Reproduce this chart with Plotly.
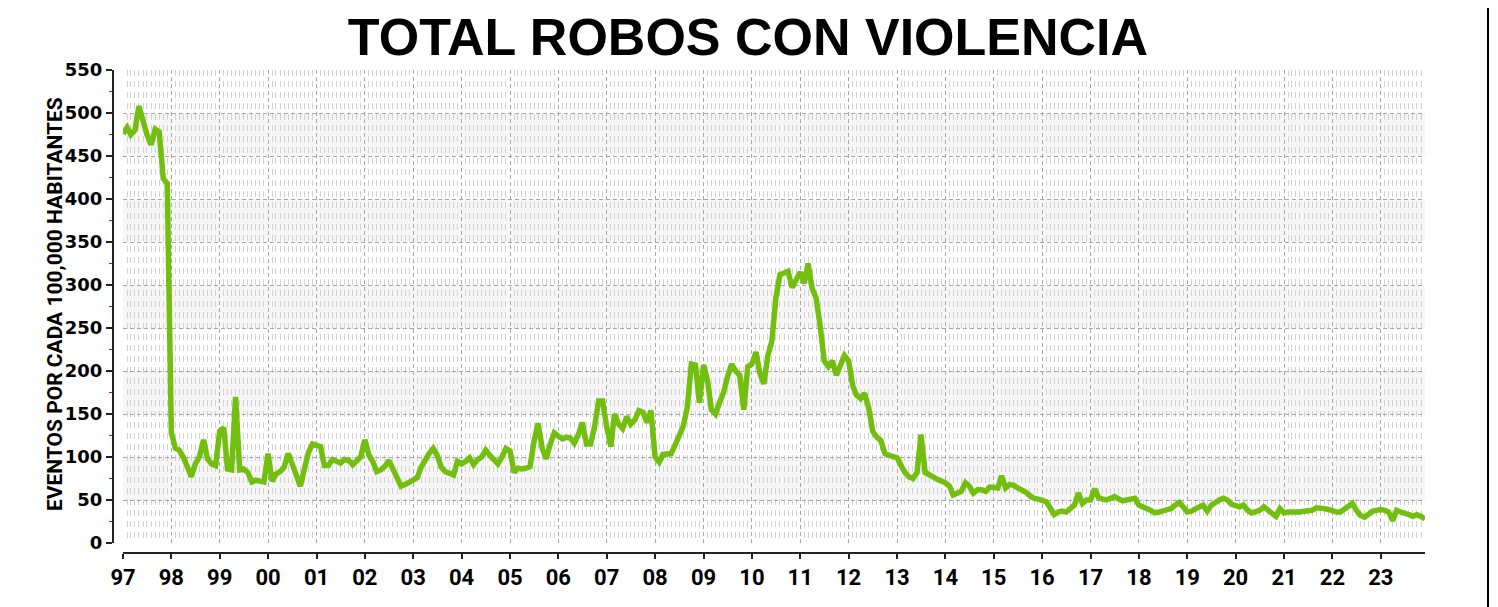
import plotly.graph_objects as go
import pandas as pd

title_text = "TOTAL ROBOS CON VIOLENCIA"
y_title = "EVENTOS POR CADA 100,000 HABITANTES"
first_month = "1997-01-01"
last_month = "2023-12-01"
y_min, y_max, y_step = 0, 550, 50
shaded_bands = [(50, 100), (150, 200), (250, 300), (350, 400), (450, 500)]

v1997 = [476, 483, 475, 480, 508, 490, 475, 463, 481, 478, 424, 418]
v1998 = [128, 110, 108, 100, 87, 77, 92, 100, 120, 98, 92, 90]
v1999 = [130, 134, 86, 85, 170, 85, 86, 82, 71, 73, 72, 71]
v2000 = [104, 72, 80, 83, 88, 104, 92, 77, 66, 86, 105, 115]
v2001 = [113, 112, 90, 90, 97, 95, 93, 97, 96, 91, 96, 100]
v2002 = [120, 102, 95, 83, 85, 89, 96, 85, 76, 66, 68, 71]
v2003 = [73, 76, 88, 98, 104, 110, 102, 88, 83, 81, 79, 95]
v2004 = [92, 95, 99, 91, 97, 100, 108, 102, 97, 92, 100, 110]
v2005 = [107, 82, 87, 86, 87, 89, 118, 139, 110, 98, 115, 128]
v2006 = [124, 121, 123, 122, 116, 126, 140, 115, 115, 135, 165, 165]
v2007 = [135, 112, 150, 138, 133, 147, 138, 143, 154, 152, 140, 154]
v2008 = [100, 94, 103, 104, 104, 114, 127, 136, 158, 208, 207, 163]
v2009 = [207, 188, 155, 150, 163, 175, 193, 208, 200, 195, 155, 205]
v2010 = [208, 222, 198, 185, 217, 235, 285, 312, 314, 316, 297, 305]
v2011 = [315, 302, 325, 296, 285, 252, 212, 205, 212, 195, 205, 218]
v2012 = [212, 183, 172, 168, 174, 157, 130, 123, 119, 104, 102, 100]
v2013 = [99, 90, 82, 77, 75, 82, 126, 82, 79, 76, 74, 72]
v2014 = [70, 66, 56, 58, 60, 70, 66, 58, 62, 62, 60, 65]
v2015 = [64, 64, 78, 64, 68, 67, 64, 62, 59, 55, 52, 51]
v2016 = [50, 48, 41, 33, 36, 37, 36, 40, 44, 58, 46, 50]
v2017 = [50, 63, 53, 51, 50, 52, 54, 51, 49, 50, 51, 52]
v2018 = [44, 41, 40, 38, 35, 36, 37, 38, 40, 44, 47, 42]
v2019 = [36, 37, 40, 42, 44, 37, 44, 48, 50, 52, 50, 45]
v2020 = [43, 42, 44, 38, 35, 36, 38, 42, 38, 35, 31, 40]
v2021 = [35, 36, 36, 35, 36, 37, 38, 38, 41, 41, 40, 39]
v2022 = [37, 36, 36, 40, 44, 46, 38, 32, 30, 34, 37, 38]
v2023 = [39, 38, 36, 26, 38, 36, 35, 33, 31, 33, 31, 28]

yearly = [v1997, v1998, v1999, v2000, v2001, v2002, v2003, v2004, v2005,
          v2006, v2007, v2008, v2009, v2010, v2011, v2012, v2013, v2014,
          v2015, v2016, v2017, v2018, v2019, v2020, v2021, v2022, v2023]
robos = [v for year in yearly for v in year]
months = pd.date_range(first_month, periods=len(robos), freq="MS")

# layout geometry (pixels, figure sits 8px inside the page)
W, H = 1490, 599
ml, mr, mt, mb = 105, 73, 62, 54
gap = 10
pw, ph = W - ml - mr, H - mt - mb
dx, dy = gap / pw, gap / ph

LINE = "#72bf10"
GRID = "#a8a8a8"
MINOR = "#d2d2d2"
BAND = "#f6f6f6"

fig = go.Figure()
fig.add_trace(go.Scatter(x=months, y=robos, mode="lines",
                         line=dict(color=LINE, width=5.5), hoverinfo="x+y",
                         showlegend=False))

for lo, hi in shaded_bands:
    fig.add_shape(type="rect", xref="x domain", yref="y", x0=0, x1=1,
                  y0=lo, y1=hi, fillcolor=BAND, line=dict(width=0),
                  layer="below")

# right edge of the outer frame
fig.add_shape(type="line", xref="paper", yref="paper",
              x0=(1480 - ml) / pw, x1=(1480 - ml) / pw,
              y0=-0.5, y1=1.5, line=dict(color="black", width=2))

fig.update_layout(
    width=W, height=H,
    margin=dict(l=ml, r=mr, t=mt, b=mb),
    paper_bgcolor="white", plot_bgcolor="white",
    title=dict(text=title_text, x=740 / W, xref="container", xanchor="center",
               y=1 - 29 / H, yref="container", yanchor="middle",
               font=dict(family="Liberation Sans", size=52, color="black",
                         weight=700)),
    xaxis=dict(
        type="date", range=[first_month, last_month], domain=[dx, 1],
        anchor="free", position=0,
        tick0=first_month, dtick="M12", tickformat="%y",
        ticks="outside", ticklen=5, tickcolor="#222", tickwidth=1.5,
        showline=True, linecolor="#222", linewidth=2,
        showgrid=True, gridcolor=GRID, griddash="4px,3px", gridwidth=1,
        zeroline=False,
        tickfont=dict(family="Roboto", size=22, color="black", weight=700),
        minor=dict(dtick="M1", showgrid=True, gridcolor=MINOR,
                   griddash="6px,5px", gridwidth=1, ticks=""),
    ),
    yaxis=dict(
        range=[y_min, y_max], domain=[dy, 1], anchor="free", position=0,
        tick0=0, dtick=y_step,
        ticks="outside", ticklen=6, tickcolor="#222", tickwidth=1.5,
        showline=True, linecolor="#222", linewidth=2,
        showgrid=True, gridcolor=GRID, griddash="4px,3px", gridwidth=1,
        zeroline=False,
        tickfont=dict(family="DejaVu Sans", size=18, color="black", weight=700),
        minor=dict(dtick=y_step / 2, ticks="outside", ticklen=3,
                   tickcolor="red", tickwidth=1, showgrid=False),
    ),
    annotations=[dict(text=y_title, xref="paper", yref="paper",
                      x=(47 - ml) / pw, y=(1 + dy) / 2 + 0.005,
                      xanchor="center", yanchor="middle", textangle=-90,
                      showarrow=False,
                      font=dict(family="Roboto", size=21, color="black",
                                weight=700))],
)

fig.write_html("out.html")
